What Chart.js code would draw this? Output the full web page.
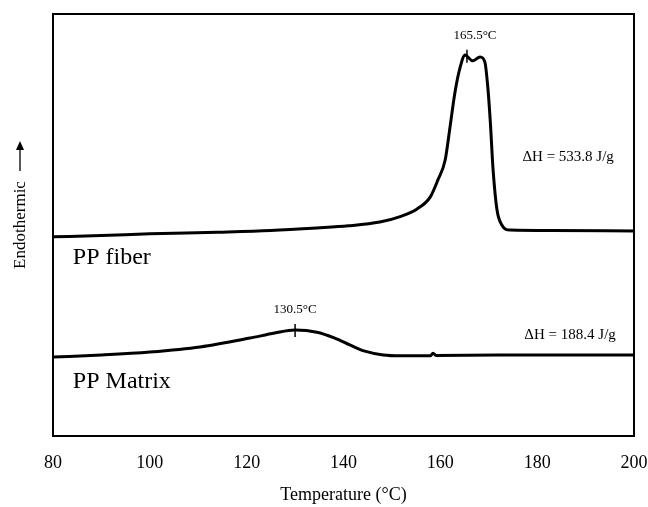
<!DOCTYPE html>
<html>
<head>
<meta charset="utf-8">
<script src="https://cdn.jsdelivr.net/npm/chart.js@4.4.1/dist/chart.umd.min.js"></script>
<style>
  body { margin: 0; background: #fff; }
  #wrap { width: 648px; height: 507px; }
</style>
</head>
<body>
<div id="wrap"><canvas id="dsc" width="648" height="507"></canvas></div>
<script>
// DSC traces (heat flow in arbitrary units)
const fiberTemps = [80, 90, 100, 114, 125, 134.5, 141, 147.5, 151.7, 155.2, 157.9, 159.5, 161, 162, 163, 164.1, 165.1, 165.5, 166.7, 168.2, 169.2, 169.8, 170.3, 170.9, 171.7, 172.7, 174.4, 183, 200];
const fiberFlow  = [47.2, 47.5, 47.9, 48.3, 48.7, 49.3, 49.8, 50.7, 52.0, 53.8, 56.6, 60.7, 65.4, 73.2, 81.3, 87.4, 90.3, 90.0, 88.9, 89.8, 88.6, 82.7, 74.9, 63.0, 53.6, 50.0, 48.8, 48.7, 48.6];

const matrixTemps = [80, 90, 100, 110.4, 120.7, 125.8, 130, 134.5, 138.2, 141.3, 144.4, 148.2, 151.7, 157.9, 158.5, 159.1, 172, 200];
const matrixFlow  = [18.7, 19.2, 19.9, 21.1, 23.2, 24.4, 25.1, 24.6, 23.2, 21.6, 20.1, 19.2, 19.0, 19.0, 19.6, 19.1, 19.2, 19.2];

const xTicks = [80, 100, 120, 140, 160, 180, 200];

// peak markers and labels
const peaks = [
    { t: 165.5, v: 90.1, label: '165.5°C', dh: 'ΔH = 533.8 J/g', dhT: 186.4, dhV: 66.1 },
    { t: 130, v: 25.1, label: '130.5°C', dh: 'ΔH = 188.4 J/g', dhT: 186.8, dhV: 23.9 }
];
const sampleNames = [
    { text: 'PP fiber', t: 84.1, v: 42.2 },
    { text: 'PP Matrix', t: 84.1, v: 12.8 }
];

const serif = '"Liberation Serif", "Times New Roman", serif';
Chart.defaults.font.family = serif;
Chart.defaults.color = '#000';

const toPoints = (xs, ys) => xs.map((x, i) => ({ x: x, y: ys[i] }));

const annotate = {
    id: 'annotate',
    afterDatasetsDraw(chart) {
        const { ctx, chartArea: a, scales: { x, y } } = chart;
        ctx.save();
        // frame
        ctx.strokeStyle = '#000';
        ctx.lineWidth = 2;
        ctx.strokeRect(a.left, a.top, a.right - a.left, a.bottom - a.top);

        ctx.fillStyle = '#000';
        ctx.textAlign = 'center';
        ctx.textBaseline = 'middle';
        peaks.forEach((p, i) => {
            const px = x.getPixelForValue(p.t);
            const py = y.getPixelForValue(p.v);
            ctx.lineWidth = 1.5;
            ctx.beginPath();
            ctx.moveTo(px, py - 6);
            ctx.lineTo(px, py + 7);
            ctx.stroke();
            ctx.font = '13px ' + serif;
            ctx.fillText(p.label, px + (i === 0 ? 8 : 0), py - 20);
            ctx.font = '15px ' + serif;
            ctx.fillText(p.dh, x.getPixelForValue(p.dhT), y.getPixelForValue(p.dhV));
        });

        ctx.textAlign = 'left';
        ctx.font = '24px ' + serif;
        sampleNames.forEach(s => {
            ctx.fillText(s.text, x.getPixelForValue(s.t), y.getPixelForValue(s.v));
        });

        // arrow next to the y title
        const yt = chart.options.scales.y.title;
        ctx.font = '17px ' + serif;
        const w = ctx.measureText(yt.text).width;
        const cy = (a.top + a.bottom) / 2;
        const ax = 20;
        const y0 = cy - w / 2 - 10, y1 = y0 - 30;
        ctx.lineWidth = 1.3;
        ctx.beginPath();
        ctx.moveTo(ax, y0);
        ctx.lineTo(ax, y1 + 2);
        ctx.stroke();
        ctx.beginPath();
        ctx.moveTo(ax, y1);
        ctx.lineTo(ax - 4, y1 + 9);
        ctx.lineTo(ax + 4, y1 + 9);
        ctx.closePath();
        ctx.fill();
        ctx.restore();
    }
};

new Chart(document.getElementById('dsc'), {
    type: 'line',
    data: {
        datasets: [
            { label: 'PP fiber', data: toPoints(fiberTemps, fiberFlow) },
            { label: 'PP Matrix', data: toPoints(matrixTemps, matrixFlow) }
        ]
    },
    options: {
        responsive: false,
        animation: false,
        layout: { padding: { left: 0, right: 14, top: 14, bottom: 0 } },
        elements: {
            line: { borderColor: '#000', borderWidth: 3, cubicInterpolationMode: 'monotone', fill: false },
            point: { radius: 0 }
        },
        plugins: {
            legend: { display: false },
            tooltip: { enabled: false }
        },
        scales: {
            x: {
                type: 'linear',
                min: 80,
                max: 200,
                afterBuildTicks: scale => { scale.ticks = xTicks.map(v => ({ value: v })); },
                afterFit: scale => {
                    scale.height = 71;
                    scale.paddingLeft = 0;
                    scale.paddingRight = 0;
                },
                grid: { display: false, drawTicks: false },
                border: { display: false },
                ticks: { padding: 16, font: { size: 18 }, maxRotation: 0 },
                title: { display: true, text: 'Temperature (°C)', font: { size: 18 }, padding: { top: 0, bottom: 1 } }
            },
            y: {
                min: 0,
                max: 100,
                afterFit: scale => {
                    scale.width = 53;
                    scale.paddingTop = 0;
                    scale.paddingBottom = 0;
                },
                grid: { display: false, drawTicks: false },
                border: { display: false },
                ticks: { display: false },
                title: { display: true, text: 'Endothermic', font: { size: 17 }, padding: { top: 10, bottom: 0 } }
            }
        }
    },
    plugins: [annotate]
});
</script>
</body>
</html>
